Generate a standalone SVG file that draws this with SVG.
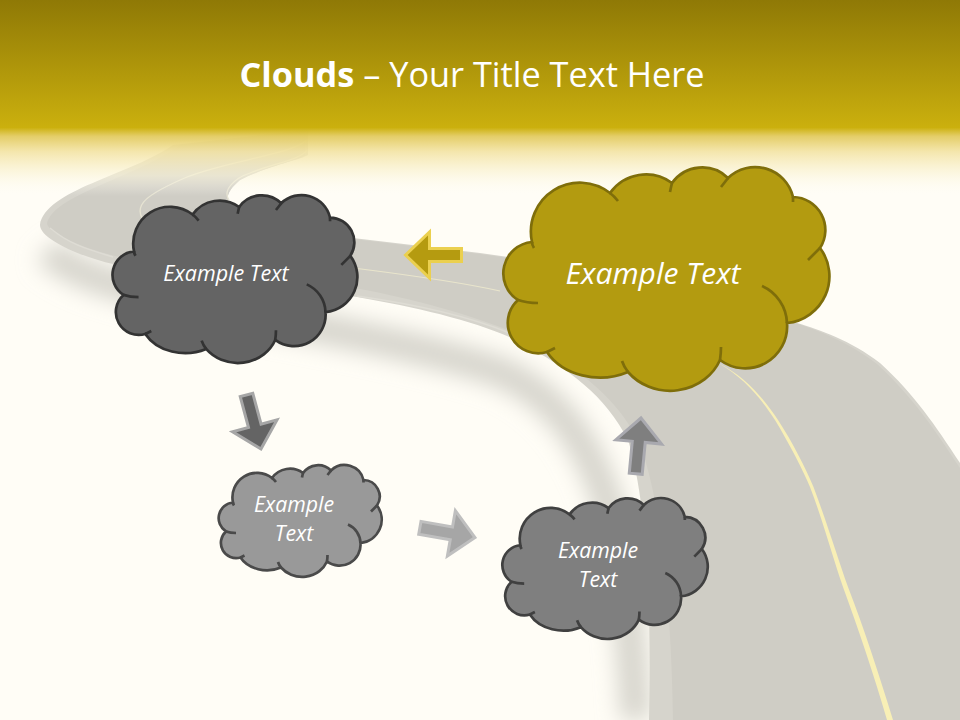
<svg xmlns="http://www.w3.org/2000/svg" width="960" height="720" viewBox="0 0 960 720">
<style>
text{font-family:"Open Sans","Noto Sans","DejaVu Sans",sans-serif;fill:#fff;text-anchor:middle}
.lbl{font-style:italic}
.arrow{stroke-width:3;stroke-linejoin:miter}
.cloud-stroke{stroke-width:2.7}
</style>
<defs>
<linearGradient id="hdr" x1="0" y1="0" x2="0" y2="1"><stop offset="0" stop-color="#8F7906"/><stop offset="1" stop-color="#CBB00E"/></linearGradient>
<linearGradient id="fade" x1="0" y1="0" x2="0" y2="1">
<stop offset="0" stop-color="#CDB212"/><stop offset=".12" stop-color="#E3CC63" stop-opacity=".97"/><stop offset=".35" stop-color="#F3E3A3" stop-opacity=".88"/><stop offset=".7" stop-color="#FBF5D9" stop-opacity=".6"/><stop offset="1" stop-color="#FFFDF6" stop-opacity="0"/>
</linearGradient>
<filter id="blur" x="-20%" y="-20%" width="140%" height="140%"><feGaussianBlur stdDeviation="11"/></filter>
<g id="cloud">
<path vector-effect="non-scaling-stroke" d="M30 75A49 49 0 0 1 108 26A44 44 0 0 1 170 16A37 37 0 0 1 226 11A39 39 0 0 1 291 30A33 33 0 0 1 318 81A47 47 0 0 1 285 156A42 42 0 0 1 218 193A54 50 0 0 1 126 205A60 48 0 0 1 45 185A30.500 30.500 0 0 1 16 133A31.500 31.500 0 0 1 30 75Z"/>
<path vector-effect="non-scaling-stroke" fill="none" stroke-linecap="butt" d="M30 75Q30 78 32 81M108 26Q112 29 116 34M170 16Q169 20 168 25M226 11Q223 15 219 20M291 30L291 35M318 81Q312 87 306 93M285 156A42 42 0 0 0 260 119M218 193Q219 186 219 180M126 205Q122 200 120 194M45 185Q49 183 53 181M16 133Q25 136 36 136"/>
</g>
<path id="arrow" d="M0 0L24 -23V-6.500H56V6.500H24V23Z"/>
</defs>
<rect width="960" height="720" fill="#FFFDF6"/>
<g id="road">
<path d="M48 250C70 275 130 290 200 305C300 325 420 345 500 372C565 400 595 455 615 525C626 585 632 650 636 720" fill="none" stroke="#D6D4CC" stroke-width="30" filter="url(#blur)"/>
<path d="M173 145C130 175 45 190 40 225C40 240 85 258 113 264C200 285 300 287 357 297C420 308 480 322 520 342C570 370 605 395 628 440C650 510 651 640 649 720H960V463C935 425 915 395 880 363C850 340 820 330 797 323L600 270L480 253L353 238L240 215C225 205 222 195 240 180C270 165 300 160 308 155V130Z" fill="#D6D4CC"/>
<path d="M180 145C135 178 52 195 47 224C50 235 90 250 115 256C200 272 300 278 360 289C420 300 490 320 530 340C580 370 620 400 640 445C665 510 672 640 673 720H960V468C935 430 912 396 877 364C849 342 817 330 795 323L600 271L480 254L353 239L240 215C225 205 222 195 240 180C270 165 300 160 305 155V130Z" fill="#CFCDC5"/>
<path d="M357 296C420 305 480 318 525 340" fill="none" stroke="#DEDCD4" stroke-width="1.500"/>
<path d="M50 228C70 245 90 250 113 257" fill="none" stroke="#DEDCD4" stroke-width="1.500"/>
<path d="M142 218C135 205 145 195 187 177C230 160 290 155 307 140" fill="none" stroke="#E6E3D2" stroke-width="1.300"/>
<path d="M229 200C222 190 235 178 250 173C275 163 300 160 307 150" fill="none" stroke="#E6E3D2" stroke-width="1.300"/>
<path d="M353 268C400 274 450 280 500 291" fill="none" stroke="#E9E5CC" stroke-width="1.200"/>
<path d="M718 363C745 378 762 400 775 420C790 445 803 470 810 487C822 518 832 555 843 587C858 628 874 675 887 720H893C879 675 864 628 848 587C837 556 826 520 813.500 487C805 467 793 443 778 420C765 400 745 376 718 363Z" fill="#F8EFB6"/>
</g>
<rect y="128" width="960" height="68" fill="url(#fade)"/>
<rect width="960" height="128" fill="url(#hdr)"/>
<text id="title" x="472" y="87" font-size="34.300"><tspan font-weight="700">Clouds</tspan> – Your Title Text Here</text>
<g id="connectors">
<use href="#arrow" class="arrow" fill="#B59B10" stroke="#EBD04F" transform="translate(405.500 255)"/>
<use href="#arrow" class="arrow" fill="#646464" stroke="#A6A6A6" transform="translate(261 449) rotate(-105)"/>
<use href="#arrow" class="arrow" fill="#A6A6A6" stroke="#BFBFBF" transform="translate(475 537.500) rotate(190)"/>
<use href="#arrow" class="arrow" fill="#7F7F7F" stroke="#A9A9AF" transform="translate(641 418) rotate(95.400)"/>
</g>
<g id="node-top-left">
<use href="#cloud" class="cloud-stroke" fill="#646464" stroke="#333333" transform="translate(111.500 195) scale(.751)"/>
<text class="lbl" x="226" y="281" font-size="21.500">Example Text</text>
</g>
<g id="node-large">
<use href="#cloud" class="cloud-stroke" fill="#B39B10" stroke="#7F6E0A" transform="translate(502 167)"/>
<text class="lbl" x="653" y="284" font-size="30">Example Text</text>
</g>
<g id="node-small">
<use href="#cloud" class="cloud-stroke" fill="#999999" stroke="#4A4A4A" transform="translate(218 465) scale(.5)"/>
<text class="lbl" x="294" y="512" font-size="21.300">Example</text>
<text class="lbl" x="294" y="541" font-size="21.300">Text</text>
</g>
<g id="node-lower-right">
<use href="#cloud" class="cloud-stroke" fill="#7F7F7F" stroke="#404040" transform="translate(501.500 498) scale(.63)"/>
<text class="lbl" x="598" y="558" font-size="21.300">Example</text>
<text class="lbl" x="598" y="587" font-size="21.300">Text</text>
</g>
</svg>
